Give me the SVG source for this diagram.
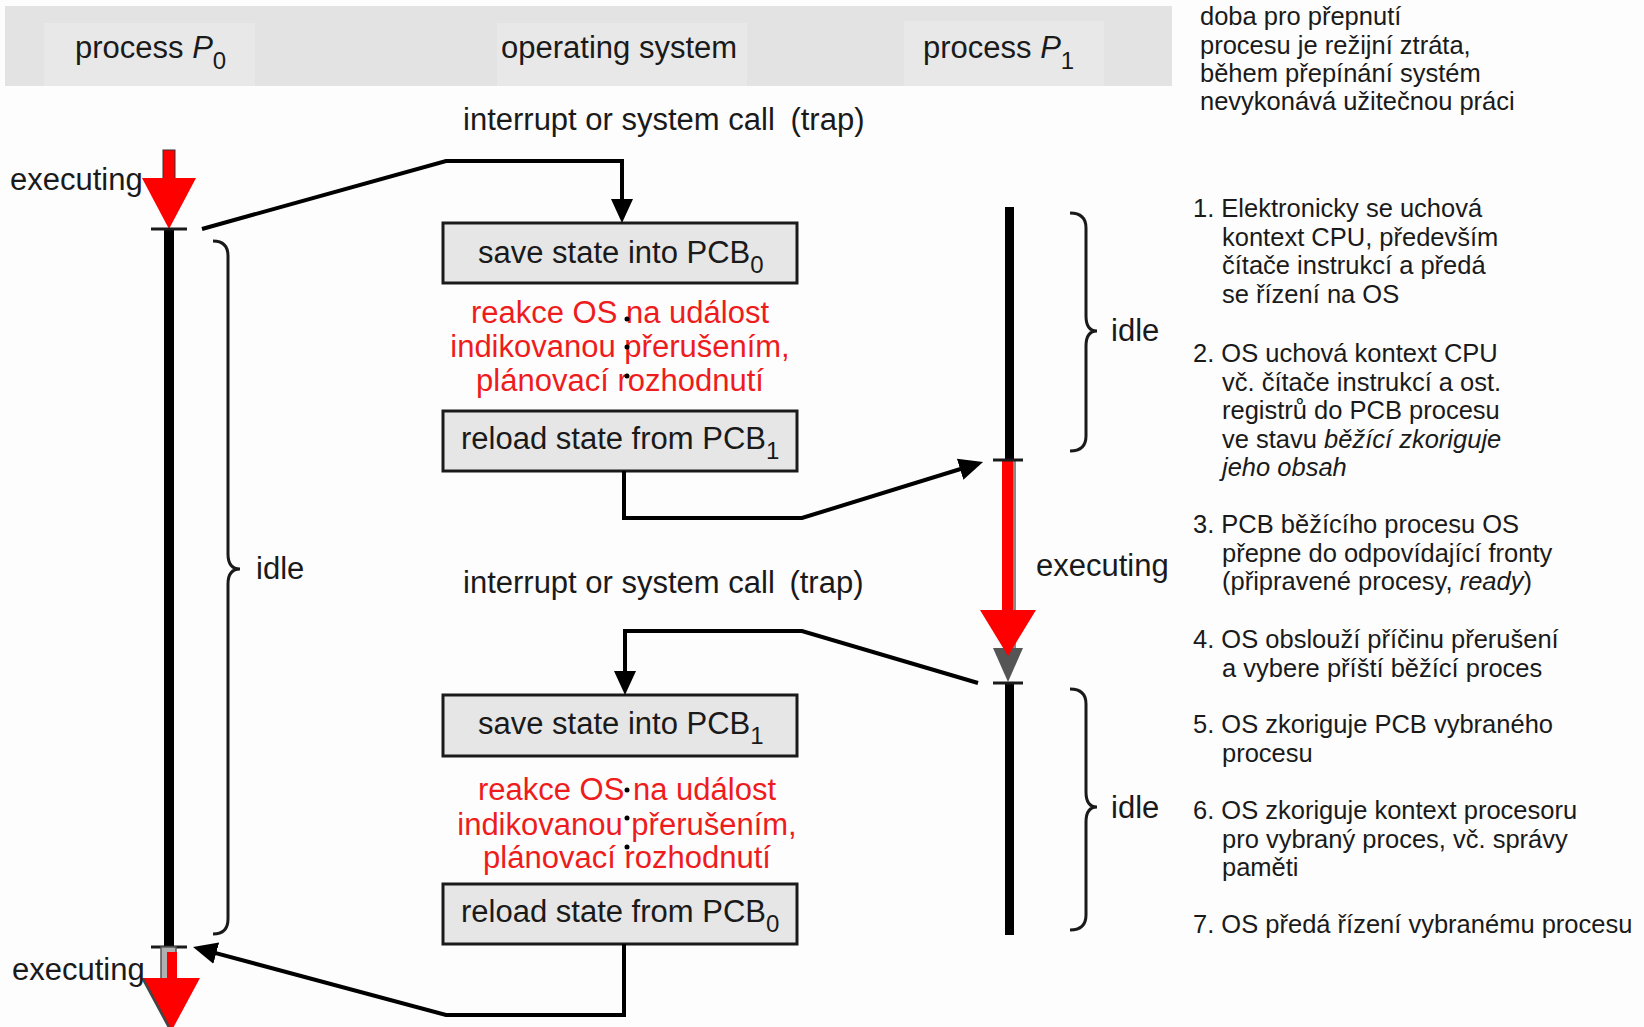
<svg xmlns="http://www.w3.org/2000/svg" width="1644" height="1027" viewBox="0 0 1644 1027">
<style>
text{font-family:"Liberation Sans",Arial,sans-serif;fill:#1a1a1a}
.t{font-size:31px}
.s{font-size:25.5px}
.sub{font-size:24px}
.red{fill:#ee1c1c}
.box{fill:#e6e6e6;stroke:#1a1a1a;stroke-width:3}
.con{fill:none;stroke:#000;stroke-width:4;stroke-linejoin:miter}
.brace{fill:none;stroke:#1a1a1a;stroke-width:3}
.tick{stroke:#1a1a1a;stroke-width:3}
.it{font-style:italic}
</style>
<defs>
<marker id="ah" markerUnits="userSpaceOnUse" markerWidth="26" markerHeight="22" refX="14" refY="11" orient="auto">
<path d="M0,0 L24,11 L0,22 z" fill="#000"/>
</marker>
</defs>
<rect x="0" y="0" width="1644" height="1027" fill="#fdfdfd"/>
<g id="header">
<rect x="5" y="6" width="1167" height="80" fill="#e3e3e3"/>
<rect x="44" y="23" width="211" height="63" fill="#e8e8e8"/>
<rect x="497" y="23" width="250" height="63" fill="#e8e8e8"/>
<rect x="904" y="21" width="200" height="65" fill="#e8e8e8"/>
<text class="t" x="75" y="58">process <tspan class="it">P</tspan><tspan class="sub" dy="11">0</tspan></text>
<text class="t" x="501" y="58">operating system</text>
<text class="t" x="923" y="58">process <tspan class="it">P</tspan><tspan class="sub" dy="11">1</tspan></text>
</g>
<g id="trap-label-1"><text class="t" x="463" y="130">interrupt or system call <tspan dx="7">(trap)</tspan></text></g>
<g id="trap-label-2"><text class="t" x="463" y="593">interrupt or system call <tspan dx="6">(trap)</tspan></text></g>

<g id="p0-timeline">
<rect x="164" y="229" width="10" height="718" fill="#000"/>
<rect x="163" y="150" width="12" height="29" fill="#ff0000" stroke="#333" stroke-width="1"/>
<path d="M142,178 L196,178 L169,229 z" fill="#ff0000"/>
<line class="tick" x1="151" y1="229" x2="187" y2="229"/>
<line class="tick" x1="151" y1="947" x2="187" y2="947"/>
<rect x="161" y="947" width="15" height="33" fill="#b0b0b0" stroke="#555" stroke-width="1.5"/>
<path d="M141,978 L197,978 L169,1030 z" fill="#444"/>
<rect x="167" y="952" width="10" height="28" fill="#ff0000"/>
<path d="M144,978 L200,978 L172,1030 z" fill="#ff0000"/>
<text class="t" x="10" y="190">executing</text>
<text class="t" x="12" y="980">executing</text>
<path class="brace" d="M213,241 Q228,241 228,256 L228,554 Q228,569 240,569 Q228,569 228,584 L228,919 Q228,934 213,934"/>
<text class="t" x="256" y="579">idle</text>
</g>

<g id="p1-timeline">
<rect x="1005" y="207" width="9" height="253" fill="#000"/>
<rect x="1005" y="683" width="9" height="252" fill="#000"/>
<rect x="1004" y="460" width="12" height="190" fill="#8a8a8a"/>
<path d="M993,648 L1023,648 L1008,682 z" fill="#555"/>
<rect x="1002" y="460" width="11" height="152" fill="#ff0000"/>
<path d="M980,610 L1036,610 L1008,656 z" fill="#ff0000"/>
<line class="tick" x1="993" y1="460" x2="1023" y2="460"/>
<line class="tick" x1="993" y1="683" x2="1023" y2="683"/>
<path class="brace" d="M1070,213 Q1086,213 1086,228 L1086,316 Q1086,331 1097,331 Q1086,331 1086,346 L1086,436 Q1086,451 1070,451"/>
<path class="brace" d="M1070,689 Q1086,689 1086,704 L1086,792 Q1086,807 1097,807 Q1086,807 1086,822 L1086,915 Q1086,930 1070,930"/>
<text class="t" x="1111" y="341">idle</text>
<text class="t" x="1111" y="818">idle</text>
<text class="t" x="1036" y="576">executing</text>
</g>

<g id="box-save0">
<rect class="box" x="443" y="223" width="354" height="60"/>
<text class="t" x="478" y="263">save state into PCB<tspan class="sub" dy="10">0</tspan></text>
</g>
<g id="os-reaction-1">
<text class="t red" text-anchor="middle" x="620" y="323">reakce OS na událost</text>
<text class="t red" text-anchor="middle" x="620" y="357">indikovanou přerušením,</text>
<text class="t red" text-anchor="middle" x="620" y="391">plánovací rozhodnutí</text>
<circle cx="627" cy="319" r="2.5" fill="#000"/>
<circle cx="627" cy="347" r="2.5" fill="#000"/>
<circle cx="627" cy="376" r="2.5" fill="#000"/>
</g>
<g id="box-reload1">
<rect class="box" x="443" y="411" width="354" height="60"/>
<text class="t" x="461" y="449">reload state from PCB<tspan class="sub" dy="10">1</tspan></text>
</g>
<g id="box-save1">
<rect class="box" x="443" y="695" width="354" height="61"/>
<text class="t" x="478" y="734">save state into PCB<tspan class="sub" dy="10">1</tspan></text>
</g>
<g id="os-reaction-2">
<text class="t red" text-anchor="middle" x="627" y="800">reakce OS na událost</text>
<text class="t red" text-anchor="middle" x="627" y="835">indikovanou přerušením,</text>
<text class="t red" text-anchor="middle" x="627" y="868">plánovací rozhodnutí</text>
<circle cx="627" cy="790" r="2.5" fill="#000"/>
<circle cx="627" cy="818" r="2.5" fill="#000"/>
<circle cx="627" cy="847" r="2.5" fill="#000"/>
</g>
<g id="box-reload0">
<rect class="box" x="443" y="884" width="354" height="60"/>
<text class="t" x="461" y="922">reload state from PCB<tspan class="sub" dy="10">0</tspan></text>
</g>

<g id="connectors">
<path class="con" d="M202,229 L446,161 L622,161 L622,213" marker-end="url(#ah)"/>
<path class="con" d="M624,471 L624,518 L802,518 L973.5,465" marker-end="url(#ah)"/>
<path class="con" d="M978,683 L802,631 L625,631 L625,685" marker-end="url(#ah)"/>
<path class="con" d="M624,944 L624,1015 L446,1015 L202.7,949.6" marker-end="url(#ah)"/>
</g>

<g id="note">
<text class="s" x="1200" y="25">doba pro přepnutí</text>
<text class="s" x="1200" y="53.5">procesu je režijní ztráta,</text>
<text class="s" x="1200" y="82">během přepínání systém</text>
<text class="s" x="1200" y="110">nevykonává užitečnou práci</text>
</g>
<g id="steps">
<text class="s" x="1193" y="217">1. Elektronicky se uchová<tspan x="1222" y="245.5">kontext CPU, především</tspan><tspan x="1222" y="274">čítače instrukcí a předá</tspan><tspan x="1222" y="302.5">se řízení na OS</tspan></text>
<text class="s" x="1193" y="362">2. OS uchová kontext CPU<tspan x="1222" y="390.5">vč. čítače instrukcí a ost.</tspan><tspan x="1222" y="419">registrů do PCB procesu</tspan><tspan x="1222" y="447.5">ve stavu <tspan class="it">běžící zkoriguje</tspan></tspan><tspan x="1222" y="476" class="it">jeho obsah</tspan></text>
<text class="s" x="1193" y="533">3. PCB běžícího procesu OS<tspan x="1222" y="561.5">přepne do odpovídající fronty</tspan><tspan x="1222" y="590">(připravené procesy, <tspan class="it">ready</tspan>)</tspan></text>
<text class="s" x="1193" y="648">4. OS obslouží příčinu přerušení<tspan x="1222" y="676.5">a vybere příští běžící proces</tspan></text>
<text class="s" x="1193" y="733">5. OS zkoriguje PCB vybraného<tspan x="1222" y="761.5">procesu</tspan></text>
<text class="s" x="1193" y="819">6. OS zkoriguje kontext procesoru<tspan x="1222" y="847.5">pro vybraný proces, vč. správy</tspan><tspan x="1222" y="876">paměti</tspan></text>
<text class="s" x="1193" y="933">7. OS předá řízení vybranému procesu</text>
</g>
</svg>
